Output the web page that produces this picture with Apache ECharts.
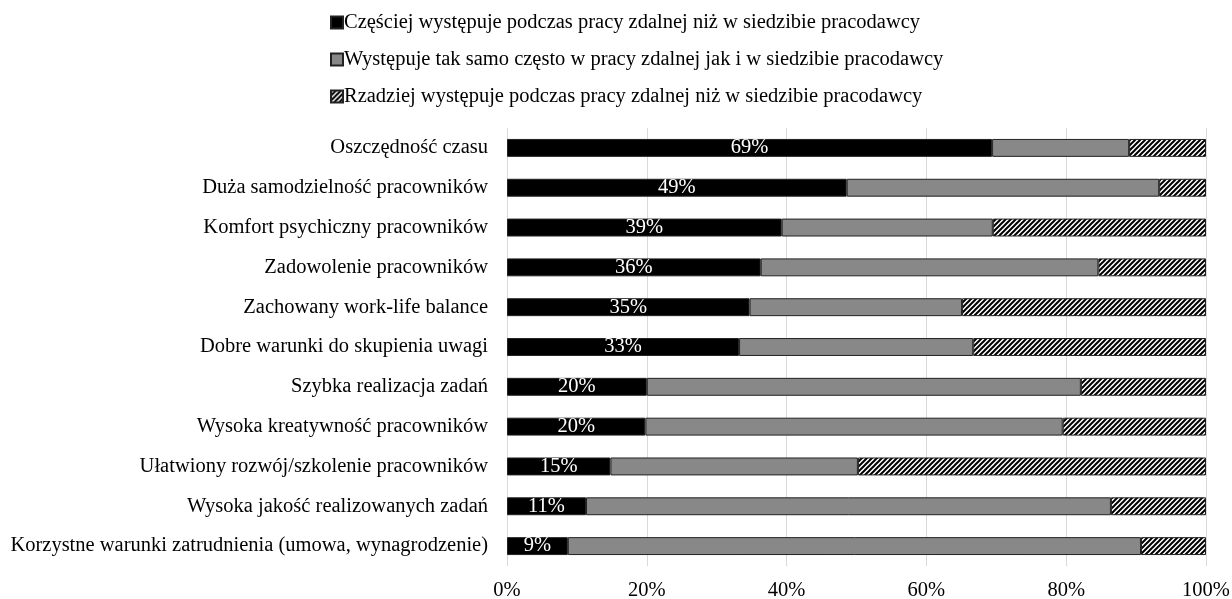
<!DOCTYPE html>
<html>
<head>
<meta charset="utf-8">
<script src="https://cdn.jsdelivr.net/npm/echarts@6/dist/echarts.min.js"></script>
<style>
  html, body { margin: 0; padding: 0; background: #fff; }
  #chart { width: 1232px; height: 599px; }
</style>
</head>
<body>
<div id="chart"></div>
<script>
// categories, top to bottom
const categories = [
  'Oszczędność czasu',
  'Duża samodzielność pracowników',
  'Komfort psychiczny pracowników',
  'Zadowolenie pracowników',
  'Zachowany work-life balance',
  'Dobre warunki do skupienia uwagi',
  'Szybka realizacja zadań',
  'Wysoka kreatywność pracowników',
  'Ułatwiony rozwój/szkolenie pracowników',
  'Wysoka jakość realizowanych zadań',
  'Korzystne warunki zatrudnienia (umowa, wynagrodzenie)'
]

const seriesNames = [
  'Częściej występuje podczas pracy zdalnej niż w siedzibie pracodawcy',
  'Występuje tak samo często w pracy zdalnej jak i w siedzibie pracodawcy',
  'Rzadziej występuje podczas pracy zdalnej niż w siedzibie pracodawcy'
]

// percentages
const czesciej = [69.4, 48.6, 39.3, 36.3, 34.7, 33.2, 20.0, 19.8, 14.8, 11.3, 8.7]
const takSamo  = [19.6, 44.7, 30.2, 48.3, 30.4, 33.5, 62.1, 59.7, 35.4, 75.1, 82.0]
const rzadziej = [11.0, 6.7, 30.5, 15.4, 34.9, 33.3, 17.9, 20.5, 49.8, 13.6, 9.3]

const xTicks = [0, 20, 40, 60, 80, 100]

const FONT = '"Liberation Serif", "DejaVu Serif", serif'
const FS = 20.5

// hatch pattern for the third series
function makeHatch () {
  const c = document.createElement('canvas')
  c.width = 5
  c.height = 5
  const ctx = c.getContext('2d')
  ctx.fillStyle = '#fff'
  ctx.fillRect(0, 0, 5, 5)
  ctx.strokeStyle = '#000'
  ctx.lineWidth = 2
  ctx.beginPath()
  ctx.moveTo(-1, 6); ctx.lineTo(6, -1)
  ctx.moveTo(-1, 1); ctx.lineTo(1, -1)
  ctx.moveTo(4, 6); ctx.lineTo(6, 4)
  ctx.stroke()
  return c
}
const hatch = { image: makeHatch(), repeat: 'repeat' }

const chart = echarts.init(document.getElementById('chart'))

const opt = {
  backgroundColor: '#fff',
  animation: false,
  textStyle: { fontFamily: FONT },
  legend: {
    orient: 'vertical',
    left: 325,
    top: 7,
    icon: 'rect',
    itemWidth: 12,
    itemHeight: 12,
    itemGap: 16,
    textStyle: { fontFamily: FONT, fontSize: FS, color: '#000', padding: [0, 0, 0, -4] },
    data: seriesNames
  },
  grid: {
    left: 507,
    right: 26,
    top: 128,
    bottom: 33,
    outerBoundsMode: 'none'
  },
  xAxis: {
    type: 'value',
    min: 0,
    max: 100,
    interval: 20,
    axisLine: { show: false },
    axisTick: { show: false },
    splitLine: { lineStyle: { color: '#d9d9d9', width: 1 } },
    axisLabel: {
      fontFamily: FONT,
      fontSize: FS,
      color: '#000',
      margin: 14,
      formatter: v => xTicks.includes(v) ? v + '%' : ''
    }
  },
  yAxis: {
    type: 'category',
    inverse: true,
    data: categories,
    axisLine: { show: false },
    axisTick: { show: false },
    axisLabel: {
      fontFamily: FONT,
      fontSize: FS,
      color: '#000',
      margin: 19
    }
  },
  series: [
    {
      name: seriesNames[0],
      type: 'bar',
      stack: 'total',
      barWidth: '45%',
      data: czesciej,
      itemStyle: { color: '#000', borderColor: '#222', borderWidth: 1 },
      label: {
        show: true,
        position: 'inside',
        color: '#fff',
        fontFamily: FONT,
        fontSize: FS,
        formatter: p => Math.round(p.value) + '%'
      }
    },
    {
      name: seriesNames[1],
      type: 'bar',
      stack: 'total',
      data: takSamo,
      itemStyle: { color: '#888888', borderColor: '#222', borderWidth: 1 }
    },
    {
      name: seriesNames[2],
      type: 'bar',
      stack: 'total',
      data: rzadziej,
      itemStyle: { color: hatch, borderColor: '#222', borderWidth: 1 }
    }
  ]
}

chart.setOption(opt)
</script>
</body>
</html>
